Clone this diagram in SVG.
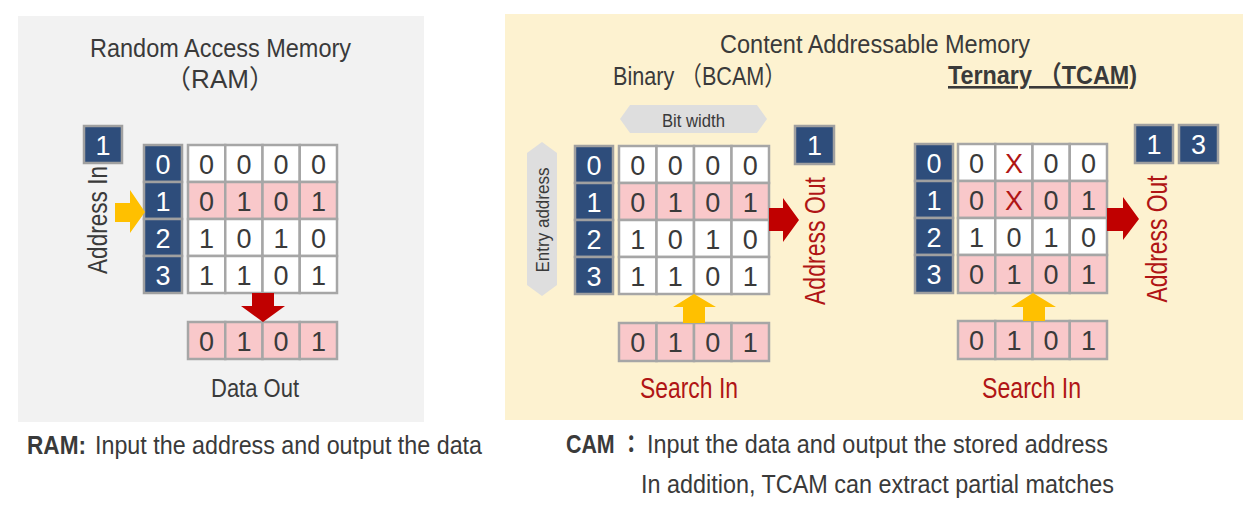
<svg xmlns="http://www.w3.org/2000/svg" width="1258" height="528" viewBox="0 0 1258 528">
<style>
text{font-family:"Liberation Sans","Noto Sans CJK JP",Arial,sans-serif;}
.c{fill:#ffffff;stroke:#a6a6a6;stroke-width:2.5;}
.p{fill:#f9c8ca;stroke:#a6a6a6;stroke-width:2.5;}
.b{fill:#2e4d7b;stroke:#a0a0a0;stroke-width:2.5;}
.d{font-size:27px;fill:#3a3a3a;text-anchor:middle;}
.w{font-size:27px;fill:#ffffff;text-anchor:middle;}
.x{font-size:27px;fill:#b01515;text-anchor:middle;}
.t{font-size:26px;fill:#3a3a3a;}
.r{font-size:29px;fill:#b01515;}
.hx{fill:#dedede;}
.ya{fill:#ffc000;}
.ra{fill:#c00000;}
.bt{font-size:25px;fill:#3a3a3a;}
</style>
<rect id="ram-panel" x="18" y="16" width="406" height="406" fill="#f2f2f2"/>
<rect id="cam-panel" x="505" y="14" width="738" height="406" fill="#fdf2d0"/>

<g id="ram-title">
<text class="t" x="90" y="57" textLength="261" lengthAdjust="spacingAndGlyphs">Random Access Memory</text>
<text class="t" x="220" y="88" text-anchor="middle">（RAM）</text>
</g>

<g id="ram-address-in">
<rect class="b" x="84" y="126" width="38" height="37"/>
<text class="w" x="103" y="154.5">1</text>
<text class="t" transform="translate(107,220) rotate(-90)" text-anchor="middle" textLength="108" lengthAdjust="spacingAndGlyphs" style="font-size:28px">Address In</text>
</g>

<g id="ram-index">
<rect class="b" x="144" y="145" width="38" height="37"/>
<rect class="b" x="144" y="182" width="38" height="37"/>
<rect class="b" x="144" y="219" width="38" height="37"/>
<rect class="b" x="144" y="256" width="38" height="37"/>
<text class="w" x="163" y="173.5">0</text>
<text class="w" x="163" y="210.5">1</text>
<text class="w" x="163" y="247.5">2</text>
<text class="w" x="163" y="284.5">3</text>
</g>

<g id="ram-grid">
<rect class="c" x="188" y="145" width="37.25" height="37"/><rect class="c" x="225.25" y="145" width="37.25" height="37"/><rect class="c" x="262.5" y="145" width="37.25" height="37"/><rect class="c" x="299.75" y="145" width="37.25" height="37"/>
<rect class="p" x="188" y="182" width="37.25" height="37"/><rect class="p" x="225.25" y="182" width="37.25" height="37"/><rect class="p" x="262.5" y="182" width="37.25" height="37"/><rect class="p" x="299.75" y="182" width="37.25" height="37"/>
<rect class="c" x="188" y="219" width="37.25" height="37"/><rect class="c" x="225.25" y="219" width="37.25" height="37"/><rect class="c" x="262.5" y="219" width="37.25" height="37"/><rect class="c" x="299.75" y="219" width="37.25" height="37"/>
<rect class="c" x="188" y="256" width="37.25" height="37"/><rect class="c" x="225.25" y="256" width="37.25" height="37"/><rect class="c" x="262.5" y="256" width="37.25" height="37"/><rect class="c" x="299.75" y="256" width="37.25" height="37"/>
<text class="d" x="206.6" y="173.5">0</text><text class="d" x="243.9" y="173.5">0</text><text class="d" x="281.1" y="173.5">0</text><text class="d" x="318.4" y="173.5">0</text>
<text class="d" x="206.6" y="210.5">0</text><text class="d" x="243.9" y="210.5">1</text><text class="d" x="281.1" y="210.5">0</text><text class="d" x="318.4" y="210.5">1</text>
<text class="d" x="206.6" y="247.5">1</text><text class="d" x="243.9" y="247.5">0</text><text class="d" x="281.1" y="247.5">1</text><text class="d" x="318.4" y="247.5">0</text>
<text class="d" x="206.6" y="284.5">1</text><text class="d" x="243.9" y="284.5">1</text><text class="d" x="281.1" y="284.5">0</text><text class="d" x="318.4" y="284.5">1</text>
</g>

<g id="ram-data-out">
<rect class="p" x="188" y="322" width="37.25" height="37"/><rect class="p" x="225.25" y="322" width="37.25" height="37"/><rect class="p" x="262.5" y="322" width="37.25" height="37"/><rect class="p" x="299.75" y="322" width="37.25" height="37"/>
<text class="d" x="206.6" y="350.5">0</text><text class="d" x="243.9" y="350.5">1</text><text class="d" x="281.1" y="350.5">0</text><text class="d" x="318.4" y="350.5">1</text>
<text class="t" x="211" y="397" textLength="88" lengthAdjust="spacingAndGlyphs">Data Out</text>
</g>

<g id="cam-title">
<text class="t" x="720" y="53" textLength="310" lengthAdjust="spacingAndGlyphs">Content Addressable Memory</text>
<text class="t" x="613" y="85" textLength="173" lengthAdjust="spacingAndGlyphs">Binary （BCAM）</text>
<text class="t" x="948" y="84" font-weight="bold" text-decoration="underline" textLength="189" lengthAdjust="spacingAndGlyphs">Ternary （TCAM)</text>
</g>

<g id="bit-width">
<polygon class="hx" points="620,119 630,105 757,105 767,119 757,133 630,133"/>
<text x="662" y="127" font-size="19" fill="#3a3a3a" textLength="63" lengthAdjust="spacingAndGlyphs">Bit width</text>
</g>

<g id="entry-address">
<polygon class="hx" points="542,142 557,153 557,285 542,296 527,285 527,153"/>
<text transform="translate(549,220) rotate(-90)" text-anchor="middle" font-size="19" fill="#3a3a3a" textLength="105" lengthAdjust="spacingAndGlyphs">Entry address</text>
</g>

<g id="bcam-index">
<rect class="b" x="575" y="146" width="38" height="37"/>
<rect class="b" x="575" y="183" width="38" height="37"/>
<rect class="b" x="575" y="220" width="38" height="37"/>
<rect class="b" x="575" y="257" width="38" height="37"/>
<text class="w" x="594" y="174.5">0</text>
<text class="w" x="594" y="211.5">1</text>
<text class="w" x="594" y="248.5">2</text>
<text class="w" x="594" y="285.5">3</text>
</g>

<g id="bcam-grid">
<rect class="c" x="619" y="146" width="37.5" height="37"/><rect class="c" x="656.5" y="146" width="37.5" height="37"/><rect class="c" x="694" y="146" width="37.5" height="37"/><rect class="c" x="731.5" y="146" width="37.5" height="37"/>
<rect class="p" x="619" y="183" width="37.5" height="37"/><rect class="p" x="656.5" y="183" width="37.5" height="37"/><rect class="p" x="694" y="183" width="37.5" height="37"/><rect class="p" x="731.5" y="183" width="37.5" height="37"/>
<rect class="c" x="619" y="220" width="37.5" height="37"/><rect class="c" x="656.5" y="220" width="37.5" height="37"/><rect class="c" x="694" y="220" width="37.5" height="37"/><rect class="c" x="731.5" y="220" width="37.5" height="37"/>
<rect class="c" x="619" y="257" width="37.5" height="37"/><rect class="c" x="656.5" y="257" width="37.5" height="37"/><rect class="c" x="694" y="257" width="37.5" height="37"/><rect class="c" x="731.5" y="257" width="37.5" height="37"/>
<text class="d" x="637.75" y="174.5">0</text><text class="d" x="675.25" y="174.5">0</text><text class="d" x="712.75" y="174.5">0</text><text class="d" x="750.25" y="174.5">0</text>
<text class="d" x="637.75" y="211.5">0</text><text class="d" x="675.25" y="211.5">1</text><text class="d" x="712.75" y="211.5">0</text><text class="d" x="750.25" y="211.5">1</text>
<text class="d" x="637.75" y="248.5">1</text><text class="d" x="675.25" y="248.5">0</text><text class="d" x="712.75" y="248.5">1</text><text class="d" x="750.25" y="248.5">0</text>
<text class="d" x="637.75" y="285.5">1</text><text class="d" x="675.25" y="285.5">1</text><text class="d" x="712.75" y="285.5">0</text><text class="d" x="750.25" y="285.5">1</text>
</g>

<g id="bcam-search-in">
<rect class="p" x="619" y="323" width="37.5" height="38"/><rect class="p" x="656.5" y="323" width="37.5" height="38"/><rect class="p" x="694" y="323" width="37.5" height="38"/><rect class="p" x="731.5" y="323" width="37.5" height="38"/>
<text class="d" x="637.75" y="352">0</text><text class="d" x="675.25" y="352">1</text><text class="d" x="712.75" y="352">0</text><text class="d" x="750.25" y="352">1</text>
<text class="r" x="640" y="398" textLength="98" lengthAdjust="spacingAndGlyphs">Search In</text>
</g>

<g id="bcam-address-out">
<rect class="b" x="795" y="126" width="39" height="38"/>
<text class="w" x="814.5" y="155">1</text>
<text class="r" transform="translate(825,241) rotate(-90)" text-anchor="middle" textLength="128" lengthAdjust="spacingAndGlyphs">Address Out</text>
</g>

<g id="tcam-index">
<rect class="b" x="915" y="144" width="38" height="37"/>
<rect class="b" x="915" y="181" width="38" height="37"/>
<rect class="b" x="915" y="218" width="38" height="37"/>
<rect class="b" x="915" y="255" width="38" height="38"/>
<text class="w" x="934" y="172.5">0</text>
<text class="w" x="934" y="209.5">1</text>
<text class="w" x="934" y="246.5">2</text>
<text class="w" x="934" y="283.5">3</text>
</g>

<g id="tcam-grid">
<rect class="c" x="958" y="144" width="37.25" height="37"/><rect class="c" x="995.25" y="144" width="37.25" height="37"/><rect class="c" x="1032.5" y="144" width="37.25" height="37"/><rect class="c" x="1069.75" y="144" width="37.25" height="37"/>
<rect class="p" x="958" y="181" width="37.25" height="37"/><rect class="p" x="995.25" y="181" width="37.25" height="37"/><rect class="p" x="1032.5" y="181" width="37.25" height="37"/><rect class="p" x="1069.75" y="181" width="37.25" height="37"/>
<rect class="c" x="958" y="218" width="37.25" height="37"/><rect class="c" x="995.25" y="218" width="37.25" height="37"/><rect class="c" x="1032.5" y="218" width="37.25" height="37"/><rect class="c" x="1069.75" y="218" width="37.25" height="37"/>
<rect class="p" x="958" y="255" width="37.25" height="38"/><rect class="p" x="995.25" y="255" width="37.25" height="38"/><rect class="p" x="1032.5" y="255" width="37.25" height="38"/><rect class="p" x="1069.75" y="255" width="37.25" height="38"/>
<text class="d" x="976.6" y="172.5">0</text><text class="x" x="1013.9" y="172.5">X</text><text class="d" x="1051.1" y="172.5">0</text><text class="d" x="1088.4" y="172.5">0</text>
<text class="d" x="976.6" y="209.5">0</text><text class="x" x="1013.9" y="209.5">X</text><text class="d" x="1051.1" y="209.5">0</text><text class="d" x="1088.4" y="209.5">1</text>
<text class="d" x="976.6" y="246.5">1</text><text class="d" x="1013.9" y="246.5">0</text><text class="d" x="1051.1" y="246.5">1</text><text class="d" x="1088.4" y="246.5">0</text>
<text class="d" x="976.6" y="284">0</text><text class="d" x="1013.9" y="284">1</text><text class="d" x="1051.1" y="284">0</text><text class="d" x="1088.4" y="284">1</text>
</g>

<g id="tcam-search-in">
<rect class="p" x="958" y="321" width="37.25" height="38"/><rect class="p" x="995.25" y="321" width="37.25" height="38"/><rect class="p" x="1032.5" y="321" width="37.25" height="38"/><rect class="p" x="1069.75" y="321" width="37.25" height="38"/>
<text class="d" x="976.6" y="350">0</text><text class="d" x="1013.9" y="350">1</text><text class="d" x="1051.1" y="350">0</text><text class="d" x="1088.4" y="350">1</text>
<text class="r" x="982" y="398" textLength="99" lengthAdjust="spacingAndGlyphs">Search In</text>
</g>

<g id="tcam-address-out">
<rect class="b" x="1135" y="125" width="38" height="38"/>
<rect class="b" x="1179" y="125" width="39" height="38"/>
<text class="w" x="1154" y="154">1</text>
<text class="w" x="1198.5" y="154">3</text>
<text class="r" transform="translate(1167,239) rotate(-90)" text-anchor="middle" textLength="127" lengthAdjust="spacingAndGlyphs">Address Out</text>
</g>

<g id="connectors">
<polygon class="ya" points="115,203 130,203 130,190 145,212 130,233 130,222 115,222"/>
<polygon class="ra" points="252,293 274,293 274,306 285,306 263,322 241,306 252,306"/>
<polygon class="ra" points="769,208 783,208 783,198 799,220 783,242 783,231 769,231"/>
<polygon class="ya" points="694,294 716,307 705,307 705,323 683,323 683,307 673,307"/>
<polygon class="ra" points="1107,208 1123,208 1123,197 1139,219 1123,240 1123,231 1107,231"/>
<polygon class="ya" points="1033,293 1056,307 1045,307 1045,321 1023,321 1023,307 1011,307"/>
</g>

<g id="captions">
<text class="bt" x="27" y="454" font-weight="bold" textLength="59" lengthAdjust="spacingAndGlyphs">RAM:</text>
<text class="bt" x="95" y="454" textLength="387" lengthAdjust="spacingAndGlyphs">Input the address and output the data</text>
<text class="bt" x="566" y="453" font-weight="bold" textLength="76" lengthAdjust="spacingAndGlyphs">CAM ：</text>
<text class="bt" x="647" y="453" textLength="461" lengthAdjust="spacingAndGlyphs">Input the data and output the stored address</text>
<text class="bt" x="641" y="493" textLength="473" lengthAdjust="spacingAndGlyphs">In addition, TCAM can extract partial matches</text>
</g>
</svg>
